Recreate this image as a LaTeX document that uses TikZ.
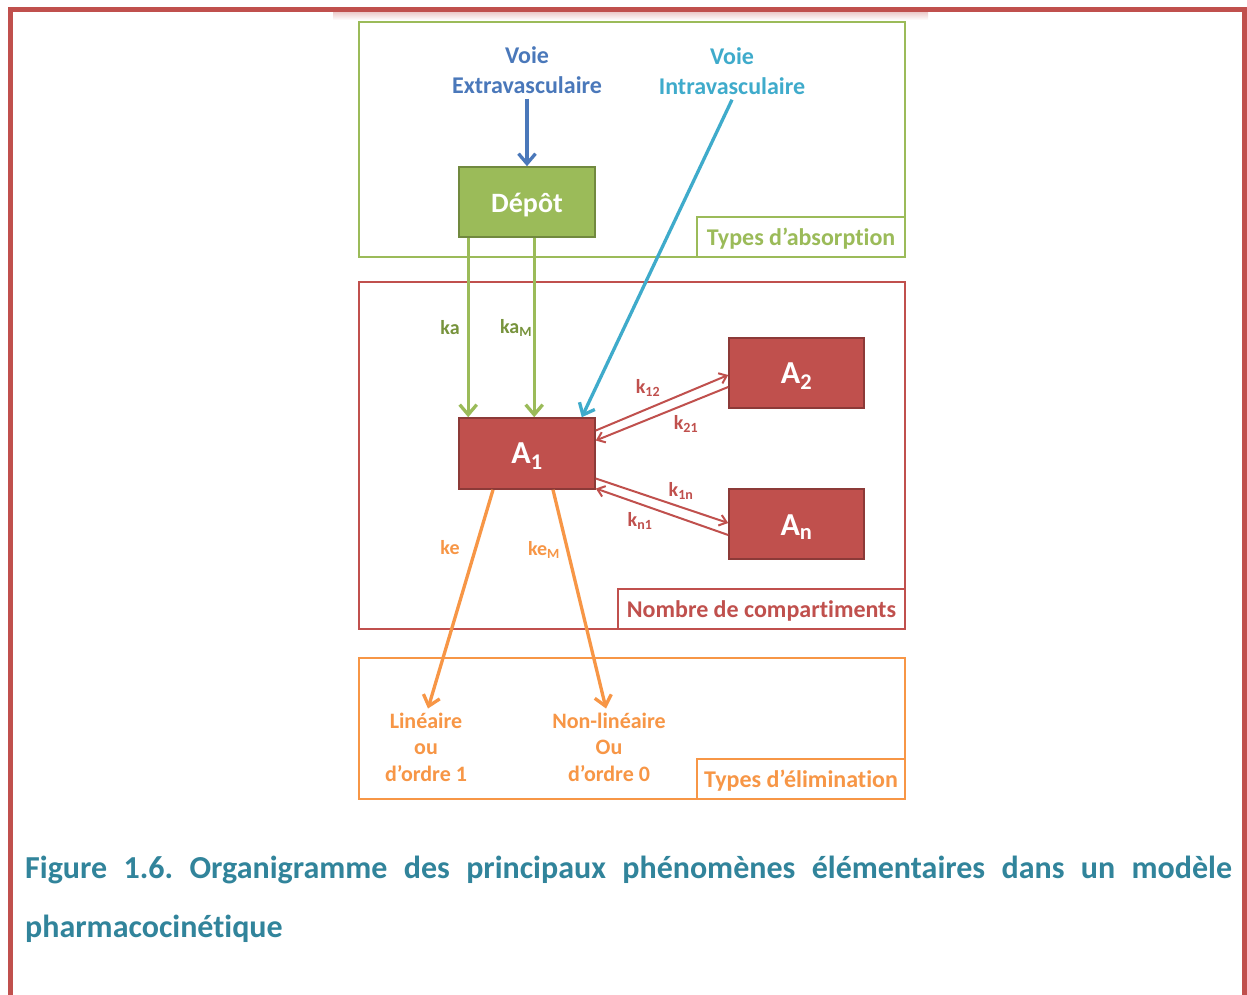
\documentclass[tikz,border=0pt]{standalone}
\usepackage{fontspec}
\setmainfont{Carlito}[Ligatures=CommonOff]
\usetikzlibrary{arrows.meta}
\definecolor{cRed}{HTML}{C0504D}
\definecolor{cRedDark}{HTML}{8C3A38}
\definecolor{cGreen}{HTML}{9BBB59}
\definecolor{cGreenDark}{HTML}{71893F}
\definecolor{cGreenText}{HTML}{77933C}
\definecolor{cOrange}{HTML}{F79646}
\definecolor{cBlue}{HTML}{4A78BA}
\definecolor{cCyan}{HTML}{3FABCB}
\definecolor{cTeal}{HTML}{31849B}
\newcommand{\dn}[2]{\raisebox{-#1}[\height][\depth]{#2}}
\tikzset{
  frame/.style={draw, line width=2.2pt, inner sep=0pt},
  lblbox/.style={draw, line width=2.2pt, inner sep=0pt, font=\fontsize{24}{28}\selectfont\bfseries},
  compbox/.style={fill=cRed, draw=cRedDark, line width=1.6pt, text=white, minimum width=136pt, minimum height=71pt, font=\fontsize{32}{36}\selectfont\bfseries},
  head/.style={font=\fontsize{24}{30}\selectfont\bfseries, align=center, inner sep=0pt},
  rate/.style={font=\fontsize{20}{24}\selectfont\bfseries, inner sep=0pt},
  outtxt/.style={font=\fontsize{22}{26.5}\selectfont\bfseries, align=center, inner sep=0pt, text=cOrange},
  bigarrow/.style={line width=3.3pt, -{Straight Barb[length=10pt,width=17pt,line width=3.3pt]}},
  smallarrow/.style={line width=2pt, draw=cRed, -{Straight Barb[length=7pt,width=11pt,line width=2pt]}},
}
\begin{document}
\frenchspacing
\begin{tikzpicture}[x=1pt,y=-1pt]
\useasboundingbox (0,0) rectangle (1247,994);
\fill[white] (0,0) rectangle (1247,994);
% outer frame
\shade[top color=cRed!30, bottom color=white] (333,12) rectangle (928,20);
\draw[cRed, line width=5pt, line join=miter] (10,1000) -- (10,9.5) -- (1244.5,9.5) -- (1244.5,1000);

% group frames
\node[frame, draw=cGreen, minimum width=546pt, minimum height=235pt] (absbox) at (632,139.5) {};
\node[lblbox, draw=cGreen, text=cGreen, minimum width=208pt, minimum height=40pt] (abslbl) at (801,237) {\dn{2pt}{Types d’absorption}};
\node[frame, draw=cRed, minimum width=546pt, minimum height=347pt] (cmpbox) at (632,455.5) {};
\node[lblbox, draw=cRed, text=cRed, minimum width=287pt, minimum height=40pt] (cmplbl) at (761.5,609) {\dn{2pt}{Nombre de compartiments}};
\node[frame, draw=cOrange, minimum width=546pt, minimum height=141pt] (elimbox) at (632,728.5) {};
\node[lblbox, draw=cOrange, text=cOrange, minimum width=208pt, minimum height=40pt] (elimlbl) at (801,779) {\dn{2pt}{Types d’élimination}};

% routes
\node[head, text=cBlue] (extra) at (527,70) {Voie\\Extravasculaire};
\node[head, text=cCyan] (intra) at (732,71) {Voie\\Intravasculaire};

% boxes
\node[fill=cGreen, draw=cGreenDark, line width=1.6pt, text=white, minimum width=136pt, minimum height=70pt, font=\fontsize{28}{32}\selectfont\bfseries] (depot) at (527,202) {\dn{3pt}{Dépôt}};
\node[compbox] (A1) at (527,453.5) {\dn{3pt}{A\textsubscript{1}}};
\node[compbox, minimum width=135pt, minimum height=70pt] (A2) at (796.5,373) {\dn{3pt}{A\textsubscript{2}}};
\node[compbox, minimum width=135pt, minimum height=70pt] (An) at (796.5,524) {\dn{3pt}{A\textsubscript{n}}};

% absorption arrows
\draw[bigarrow, draw=cBlue] ([yshift=-5pt]extra.south) -- (depot.north);
\draw[bigarrow, draw=cCyan] ([xshift=0pt,yshift=-5pt]intra.south) -- ([xshift=-14pt]A1.north east);
\draw[bigarrow, draw=cGreen] ([xshift=10pt]depot.south west) -- ([xshift=10pt]A1.north west);
\draw[bigarrow, draw=cGreen] ([xshift=76pt]depot.south west) -- ([xshift=76pt]A1.north west);
\node[rate, text=cGreenText] (ka) at (450,328) {ka};
\node[rate, text=cGreenText] (kaM) at (516,328) {ka\textsubscript{M}};

% exchanges
\draw[smallarrow] ([yshift=23pt]A1.east) -- ([yshift=-2pt]A2.west);
\draw[smallarrow] ([yshift=-14pt]A2.west) -- ([yshift=13pt]A1.east);
\draw[smallarrow] ([yshift=-25pt]A1.east) -- ([yshift=1pt]An.west);
\draw[smallarrow] ([yshift=-11pt]An.west) -- ([yshift=-35pt]A1.east);
\node[rate, text=cRed] (k12) at (648,388) {k\textsubscript{12}};
\node[rate, text=cRed] (k21) at (686,424) {k\textsubscript{21}};
\node[rate, text=cRed] (k1n) at (681,491) {k\textsubscript{1n}};
\node[rate, text=cRed] (kn1) at (640,521) {k\textsubscript{n1}};

% elimination
\node[outtxt] (lin) at (426,747) {Linéaire\\ou\\d’ordre 1};
\node[outtxt] (nonlin) at (609,747) {Non-linéaire\\Ou\\d’ordre 0};
\draw[bigarrow, draw=cOrange] ([xshift=-34pt]A1.south) -- ([xshift=2pt,yshift=4pt]lin.north);
\draw[bigarrow, draw=cOrange] ([xshift=26pt]A1.south) -- ([xshift=-3pt,yshift=4pt]nonlin.north);
\node[rate, text=cOrange] (ke) at (450,548) {ke};
\node[rate, text=cOrange] (keM) at (544,550) {ke\textsubscript{M}};

% caption
\node[anchor=base west, inner sep=0pt, text=cTeal, font=\fontsize{32}{38}\selectfont\bfseries] (cap1) at (25,878) {\makebox[1207pt][s]{Figure 1.6. Organigramme des principaux phénomènes élémentaires dans un modèle}};
\node[anchor=base west, inner sep=0pt, text=cTeal, font=\fontsize{32}{38}\selectfont\bfseries] (cap2) at (25,937) {pharmacocinétique};
\end{tikzpicture}
\end{document}
